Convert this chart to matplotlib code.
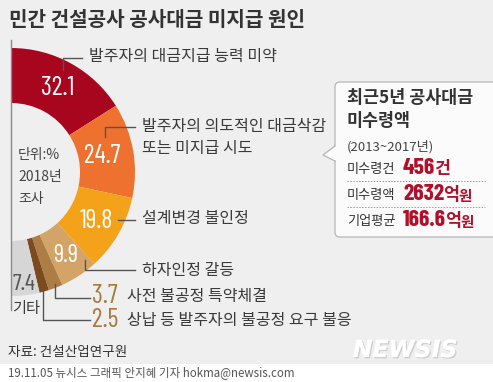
import numpy as np
import matplotlib
matplotlib.use('Agg')
from matplotlib import pyplot as plt
from matplotlib.patches import FancyBboxPatch, Polygon, Rectangle
import matplotlib.patheffects as pe

# 데이터
causes = ['발주자의 대금지급 능력 미약', '발주자의 의도적인 대금삭감\n또는 미지급 시도', '설계변경 불인정',
          '하자인정 갈등', '사전 불공정 특약체결', '상납 등 발주자의 불공정 요구 불응', '기타']
shares = [32.1, 24.7, 19.8, 9.9, 3.7, 2.5, 7.4]
colors = ['#A8061F', '#EE7130', '#F5A21B', '#D3A468', '#AE7D46', '#7B4B1F', '#D6D6D6']

box_rows = ['미수령건', '미수령액', '기업평균']
box_nums = ['456', '2632', '166.6']
box_units = ['건', '억', '억']
box_tails = ['', '원', '원']

KR = ['Noto Sans CJK KR', 'DejaVu Sans']
NUM = ['Barlow Condensed', 'DejaVu Sans']
W, H = 493, 382

fig = plt.figure(figsize=(W / 100, H / 100), dpi=100, facecolor='#EFEFEF')
ax = fig.add_axes([0, 0, 1, 1])


def Y(y):
    # 픽셀 좌표(위에서 아래로) -> 데이터 좌표
    return H - y


# 도넛 (반원)
cx, cy, r_out, r_in = 11, 172, 124, 69
vals = shares + [sum(shares)]
wedges, _ = ax.pie(vals, colors=colors + ['none'], startangle=90, counterclock=False,
                   center=(cx, Y(cy)), radius=r_out, frame=True,
                   wedgeprops=dict(width=r_out - r_in, linewidth=0))
ax.set_xlim(0, W)
ax.set_ylim(0, H)
ax.set_aspect('auto')
ax.axis('off')

# 조각 안의 수치
total = sum(vals)
cum = np.cumsum([0] + shares)
mid_ang = 90 - (cum[:-1] + np.array(shares) / 2) / total * 360
lab_r = [96, 93, 99, 100, None, None, 113]
lab_col = ['white', 'white', 'white', 'white', None, None, '#555555']
lab_size = [19, 19, 19, 18, None, None, 17]
for i, v in enumerate(shares):
    if lab_r[i] is None:
        continue
    a = np.deg2rad(mid_ang[i])
    ax.text(cx + lab_r[i] * np.cos(a), Y(cy) + lab_r[i] * np.sin(a), f'{v}',
            color=lab_col[i], fontsize=lab_size[i], family=NUM, ha='center', va='center')

# 축선
ax.plot([11, 11], [Y(40), Y(310)], color='#8A8A8A', lw=1)

# 지시선
lc = '#555555'
leaders = [[(63, 70), (63, 58), (82, 58)],
           [(105, 137), (105, 127), (135, 127)],
           [(118, 220), (135, 220)],
           [(85, 260), (85, 270), (135, 270)],
           [(55, 284), (55, 298), (90, 298)],
           [(43, 289), (43, 320), (90, 320)]]
for pts in leaders:
    xs = [p[0] for p in pts]
    ys = [Y(p[1]) for p in pts]
    ax.plot(xs, ys, color=lc, lw=1)

tc = '#3A3A3A'
ax.text(89, Y(57), causes[0], fontsize=11.5, family=KR, color=tc, va='center')
ax.text(142, Y(127), causes[1].split('\n')[0], fontsize=11.5, family=KR, color=tc, va='center')
ax.text(142, Y(149), causes[1].split('\n')[1], fontsize=11.5, family=KR, color=tc, va='center')
ax.text(142, Y(219), causes[2], fontsize=11.5, family=KR, color=tc, va='center')
ax.text(142, Y(270), causes[3], fontsize=11.5, family=KR, color=tc, va='center')
ax.text(105, Y(296), f'{shares[4]}', fontsize=19, family=NUM, color='#A87A40', ha='center', va='center')
ax.text(105, Y(320), f'{shares[5]}', fontsize=19, family=NUM, color='#A87A40', ha='center', va='center')
ax.text(127, Y(297), causes[4], fontsize=11.5, family=KR, color=tc, va='center')
ax.text(127, Y(321), causes[5], fontsize=11.5, family=KR, color=tc, va='center')
ax.text(12, Y(308), causes[6], fontsize=11, family=KR, color=tc, va='center')

# 단위
ax.text(18, Y(155), '단위:%', fontsize=10, family=KR, color='#444444', va='center')
ax.text(18, Y(177), '2018년', fontsize=10, family=KR, color='#444444', va='center')
ax.text(18, Y(199), '조사', fontsize=10, family=KR, color='#444444', va='center')

# 제목
ax.text(9, Y(20), '민간 건설공사 공사대금 미지급 원인', fontsize=14.5, family=KR,
        weight='bold', color='#333333', va='center')

# 오른쪽 박스
box = FancyBboxPatch((335, Y(237)), 170, 155, boxstyle='round,pad=0,rounding_size=5',
                     fc='#FBFBFB', ec='#B5B5B5', lw=0.9, zorder=3)
ax.add_patch(box)
ax.add_patch(Polygon([(336, Y(146)), (323, Y(155)), (336, Y(161))], closed=True,
                     fc='#FBFBFB', ec='none', zorder=4))
ax.plot([335, 323, 335], [Y(146), Y(155), Y(161)], color='#B5B5B5', lw=0.9, zorder=5)

ax.text(347, Y(98), '최근5년 공사대금', fontsize=12.5, family=KR, weight='bold', color='#333333',
        va='center', zorder=6)
ax.text(347, Y(121), '미수령액', fontsize=12.5, family=KR, weight='bold', color='#333333',
        va='center', zorder=6)
ax.text(347, Y(147), '(2013~2017년)', fontsize=9.5, family=KR, color='#444444', va='center', zorder=6)

row_y = [169, 195, 221]
red = '#B0102A'
for i, yy in enumerate(row_y):
    ax.text(347, Y(yy), box_rows[i], fontsize=9.5, family=KR, color='#333333', va='center', zorder=6)
    t = ax.text(403, Y(yy - 1), box_nums[i], fontsize=17, family=NUM, weight='bold', color=red,
                va='center', zorder=6)
    t2 = ax.annotate(box_units[i], xycoords=t, xy=(1, 0.45), xytext=(-1, 0), textcoords='offset points',
                     va='center', fontsize=12.5, family=KR, weight='bold', color=red, zorder=6)
    if box_tails[i]:
        ax.annotate(box_tails[i], xycoords=t2, xy=(1, 0.45), va='center', fontsize=10.5,
                    family=KR, weight='bold', color=red, zorder=6)
for yy in [181, 207]:
    ax.plot([347, 485], [Y(yy), Y(yy)], color='#9A9A9A', lw=0.7, ls=(0, (1.5, 1.5)), zorder=6)

# 출처
ax.text(8, Y(352), '자료: 건설산업연구원', fontsize=9.8, family=KR, color='#333333', va='center')

# 하단 띠
ax.add_patch(Rectangle((0, 0), W, Y(364), fc='white', ec='none', zorder=2))
ax.text(8, Y(373), '19.11.05 뉴시스 그래픽 안지혜 기자 hokma@newsis.com', fontsize=8.3, family=KR,
        color='#555555', va='center', zorder=3)

# 워터마크
ax.text(405, Y(350), 'NEWSIS', fontsize=17, weight='bold', style='italic', color='white',
        family=['DejaVu Sans'], ha='center', va='center', zorder=3,
        path_effects=[pe.withSimplePatchShadow(offset=(1, -1), shadow_rgbFace='#BBBBBB', alpha=0.6),
                      pe.Normal()])

fig.savefig('out.png', dpi=100, facecolor=fig.get_facecolor())
